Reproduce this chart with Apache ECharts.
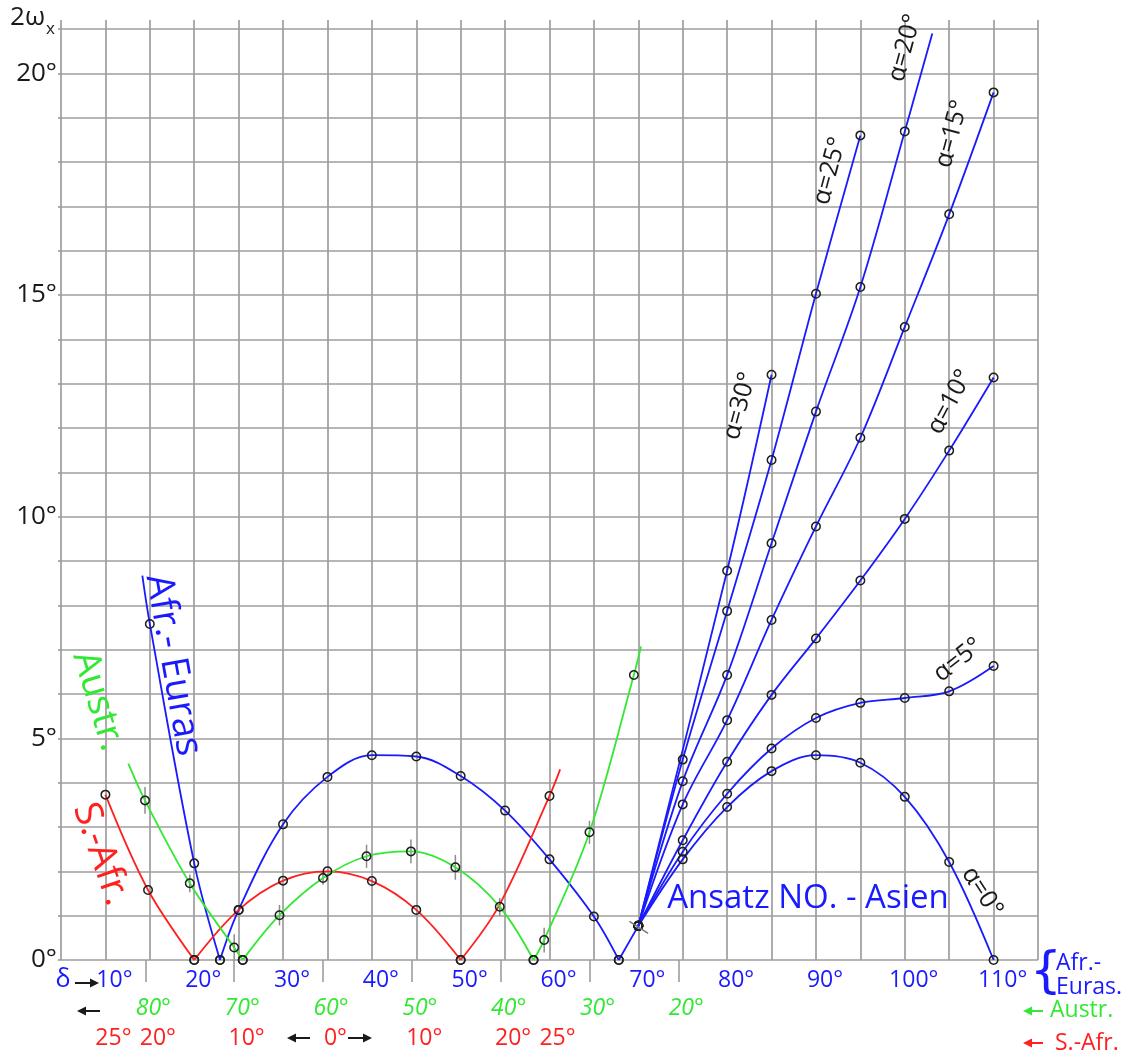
<!DOCTYPE html>
<html><head><meta charset="utf-8">
<script src="https://cdn.jsdelivr.net/npm/echarts@6/dist/echarts.min.js"></script>
<style>html,body{margin:0;padding:0;background:#fff}#c{width:1134px;height:1058px}</style>
</head><body><div id="c"></div>
<script>
const BLUE = '#1a1aff', RED = '#ff2020', GREEN = '#33e833', GRID = '#9e9e9e', INK = '#1a1a1a';
const FONT = 'Open Sans';
const WEIGHT = 500;

// ---------- axes / tick labels ----------
const xMin = 5, xMax = 115, xStep = 5;
const yMin = 0, yMax = 21, yStep = 1;
const yTickVals = [0, 5, 10, 15, 20];
const yTickLabels = ['0°', '5°', '10°', '15°', '20°'];
const deltaTickVals = [10, 20, 30, 40, 50, 60, 70, 80, 90, 100, 110];
const deltaTickLabels = ['10°', '20°', '30°', '40°', '50°', '60°', '70°', '80°', '90°', '100°', '110°'];
const austrTickVals = [14.5, 24.5, 34.5, 44.5, 54.5, 64.5, 74.5];
const austrTickLabels = ['80°', '70°', '60°', '50°', '40°', '30°', '20°'];
const sAfrTickVals = [10, 15, 25, 35, 45, 55, 60];
const sAfrTickLabels = ['25°', '20°', '10°', '0°', '10°', '20°', '25°'];

// ---------- Afr.-Euras (blue) ----------
const afrEurasA = [[14.16, 8.67], [15, 7.58], [20, 2.18], [22.9, 0]];
const afrEurasB = [[22.9, 0], [25, 1.13], [30, 3.06], [35, 4.13], [40, 4.62], [45, 4.59], [50, 4.15], [55, 3.37], [60, 2.27], [65, 0.98], [67.8, 0]];
const afrEurasC = [[67.8, 0], [70, 0.77]];
const ansatzTick = [[69.0, 0.87], [71.1, 0.60]];

// ---------- S.-Afr. (red) ----------
const sAfrA = [[10, 3.73], [14.8, 1.58], [20, 0]];
const sAfrB = [[20, 0], [25, 1.13], [30, 1.79], [35, 2.0], [40, 1.78], [45, 1.13], [50, 0]];
const sAfrC = [[50, 0], [54.3, 1.22], [60, 3.70], [61.2, 4.30]];

// ---------- Austr. (green) ----------
const austrA = [[12.58, 4.43], [14.46, 3.60], [19.5, 1.73], [24.5, 0.28], [25.46, 0]];
const austrB = [[25.46, 0], [29.6, 1.01], [34.5, 1.85], [39.4, 2.34], [44.4, 2.45], [49.4, 2.09], [54.4, 1.20], [58.2, 0]];
const austrC = [[58.2, 0], [59.4, 0.45], [64.5, 2.88], [69.5, 6.43], [70.3, 7.07]];
const austrErr = [[14.46, 3.60, 0.30], [19.5, 1.73, 0.20], [24.5, 0.28, 0.30], [29.6, 1.01, 0.23], [34.5, 1.85, 0.15], [39.4, 2.34, 0.26], [44.4, 2.45, 0.27], [49.4, 2.09, 0.28], [54.4, 1.20, 0.20], [59.4, 0.45, 0.28], [64.5, 2.88, 0.26]];

// ---------- Ansatz NO.-Asien, alpha curves (blue) ----------
const alpha0  = [[70, 0.77], [75, 2.27], [80, 3.45], [85, 4.26], [90, 4.62], [95, 4.45], [100, 3.68], [105, 2.21], [110, 0]];
const alpha5  = [[70, 0.77], [75, 2.44], [80, 3.75], [85, 4.77], [90, 5.46], [95, 5.80], [100, 5.91], [105, 6.06], [110, 6.63]];
const alpha10 = [[70, 0.77], [75, 2.70], [80, 4.47], [85, 5.98], [90, 7.25], [95, 8.56], [100, 9.95], [105, 11.49], [110, 13.14]];
const alpha15 = [[70, 0.77], [75, 3.51], [80, 5.41], [85, 7.67], [90, 9.78], [95, 11.78], [100, 14.28], [105, 16.82], [110, 19.57]];
const alpha20 = [[70, 0.77], [75, 4.03], [80, 6.43], [85, 9.40], [90, 12.37], [95, 15.18], [100, 18.69], [103.1, 20.9]];
const alpha25 = [[70, 0.77], [75, 4.52], [80, 7.87], [85, 11.28], [90, 15.03], [95, 18.60]];
const alpha30 = [[70, 0.77], [80, 8.78], [85, 13.20]];

function curve(data, color, open, extra) {
  return Object.assign({
    type: 'line',
    data: data.map((p, i) => open.indexOf(i) >= 0 ? { value: p, symbol: 'none' } : p),
    smooth: 0.35,
    symbol: 'circle', symbolSize: 8.5, showSymbol: true,
    lineStyle: { color: color, width: 1.8 },
    itemStyle: { color: 'rgba(0,0,0,0)', borderColor: '#1e1e1e', borderWidth: 1.5 },
    emphasis: { disabled: true }, silent: true, z: 3, clip: false, animation: false
  }, extra || {});
}

const series = [
  {
    type: 'custom', silent: true, z: 2, clip: false,
    encode: { x: 0, y: 1 },
    data: austrErr,
    renderItem: function (params, api) {
      const x = api.value(0), y = api.value(1), h = api.value(2);
      const p1 = api.coord([x, y - h]), p2 = api.coord([x, y + h]);
      return { type: 'line', shape: { x1: p1[0], y1: p1[1], x2: p2[0], y2: p2[1] },
        style: { stroke: '#8c8c8c', lineWidth: 1.5 } };
    }
  },
  curve(afrEurasA, BLUE, [0]),
  curve(afrEurasB, BLUE, []),
  curve(afrEurasC, BLUE, [], {
    markLine: { silent: true, symbol: 'none', label: { show: false }, animation: false,
      lineStyle: { color: '#777', width: 1.5, type: 'solid' },
      data: [[{ coord: ansatzTick[0] }, { coord: ansatzTick[1] }]] }
  }),
  curve(sAfrA, RED, []),
  curve(sAfrB, RED, []),
  curve(sAfrC, RED, [1, 3]),
  curve(austrA, GREEN, [0]),
  curve(austrB, GREEN, []),
  curve(austrC, GREEN, [4]),
  curve(alpha0, BLUE, []),
  curve(alpha5, BLUE, []),
  curve(alpha10, BLUE, []),
  curve(alpha15, BLUE, []),
  curve(alpha20, BLUE, [7]),
  curve(alpha25, BLUE, []),
  curve(alpha30, BLUE, [])
];

function T(text, x, y, o) {
  o = o || {};
  return { type: 'text', x: x, y: y, rotation: (o.rot || 0) * Math.PI / 180, silent: true, z: 20,
    style: { text: text, fill: o.color || INK, fontSize: o.size || 24, fontFamily: o.font || FONT,
      fontWeight: WEIGHT, fontStyle: o.italic ? 'italic' : 'normal', align: o.align || 'center', textAlign: o.align || 'center',
      verticalAlign: 'middle', textVerticalAlign: 'middle' } };
}
// arrow glyph drawn as shaft + head (tail x1 -> head x2)
function A(x1, x2, y, color) {
  const d = x2 > x1 ? 1 : -1, hl = 9, hw = 4.5;
  return { type: 'group', silent: true, z: 20, children: [
    { type: 'line', shape: { x1: x1, y1: y, x2: x2 - d * hl * 0.6, y2: y }, style: { stroke: color || INK, lineWidth: 2 } },
    { type: 'polygon', shape: { points: [[x2, y], [x2 - d * hl, y - hw], [x2 - d * hl, y + hw]] }, style: { fill: color || INK } }
  ] };
}
const graphics = [
  T('2ω', 45, 18, { size: 26, align: 'right' }),
  T('x', 46, 29, { size: 17, align: 'left' }),
  T('δ', 63, 980, { color: BLUE, size: 25 }),
  A(75, 99, 983),
  A(100, 77, 1011),
  A(310, 287, 1038),
  A(348, 372, 1038),
  T('{', 1046, 974, { color: BLUE, size: 50, font: 'DejaVu Sans' }),
  T('Afr.-', 1056, 963, { color: BLUE, size: 23, align: 'left' }),
  T('Euras.', 1056, 987, { color: BLUE, size: 23, align: 'left' }),
  A(1043, 1023, 1011, GREEN),
  T('Austr.', 1050, 1010, { color: GREEN, size: 23, align: 'left' }),
  A(1043, 1023, 1043, RED),
  T('S.-Afr.', 1055, 1043, { color: RED, size: 23, align: 'left' }),
  T('Afr.- Euras', 173, 665, { color: BLUE, size: 38, rot: -80 }),
  T('Austr.', 98, 701, { color: GREEN, size: 37, rot: -73 }),
  T('S.-Afr.', 101, 854, { color: RED, size: 38, rot: -71 }),
  T('Ansatz NO. - Asien', 808, 899, { color: BLUE, size: 33 }),
  T('α=30°', 740, 406, { size: 25, rot: 75 }),
  T('α=25°', 830, 171, { size: 25, rot: 75 }),
  T('α=20°', 905, 48, { size: 25, rot: 75 }),
  T('α=15°', 952, 134, { size: 25, rot: 75 }),
  T('α=10°', 950, 402, { size: 25, rot: 62 }),
  T('α=5°', 958, 660, { size: 25, rot: 38 }),
  T('α=0°', 982, 892, { size: 25, rot: -57 })
];

const hiddenLine = { show: false };
function labelAxis(vals, labels, color, offset, italic) {
  return {
    type: 'value', min: xMin, max: xMax, interval: xStep, position: 'bottom', offset: offset,
    axisLine: hiddenLine, axisTick: { show: false }, splitLine: { show: false },
    axisLabel: { show: true, customValues: vals, formatter: v => labels[vals.indexOf(v)] || '',
      color: color, fontSize: 23, fontFamily: FONT, fontWeight: WEIGHT, fontStyle: italic ? 'italic' : 'normal',
      margin: 9, padding: [0, 0, 0, 16] }
  };
}

const option = {
  animation: false,
  backgroundColor: '#fff',
  grid: { left: 61, right: 96, top: 29, bottom: 98, containLabel: false },
  xAxis: [
    {
      type: 'value', min: xMin, max: xMax, interval: xStep, position: 'bottom',
      axisLine: hiddenLine, axisTick: { show: false },
      splitLine: { show: true, lineStyle: { color: GRID, width: 1.7 } },
      axisLabel: { show: true, customValues: deltaTickVals, formatter: v => deltaTickLabels[deltaTickVals.indexOf(v)] || '',
        color: BLUE, fontSize: 23, fontFamily: FONT, fontWeight: WEIGHT, margin: 9, padding: [0, 0, 0, 18] }
    },
    labelAxis(austrTickVals, austrTickLabels, GREEN, 28, true),
    labelAxis(sAfrTickVals, sAfrTickLabels, RED, 58, false),
    {
      type: 'value', min: xMin, max: xMax, interval: xStep, position: 'bottom', offset: 0,
      axisLine: hiddenLine, splitLine: { show: false }, axisLabel: { show: false },
      axisTick: { show: true, customValues: austrTickVals, length: 22, lineStyle: { color: GRID, width: 1.6 } }
    },
    {
      type: 'value', min: xMin, max: xMax, interval: xStep, position: 'top',
      axisLine: hiddenLine, splitLine: { show: false }, axisLabel: { show: false },
      axisTick: { show: true, length: 9, lineStyle: { color: GRID, width: 1.7 } }
    }
  ],
  yAxis: {
    type: 'value', min: yMin, max: yMax, interval: yStep,
    axisLine: hiddenLine,
    axisTick: { show: true, length: 3, lineStyle: { color: GRID, width: 1.7 } },
    splitLine: { show: true, lineStyle: { color: GRID, width: 1.7 } },
    axisLabel: { customValues: yTickVals, formatter: v => yTickLabels[yTickVals.indexOf(v)] || '',
      color: INK, fontSize: 26, fontFamily: FONT, fontWeight: WEIGHT, margin: 4 }
  },
  series: series,
  graphic: graphics
};

const chart = echarts.init(document.getElementById('c'), null, { renderer: 'canvas' });
chart.setOption(option);
</script></body></html>
